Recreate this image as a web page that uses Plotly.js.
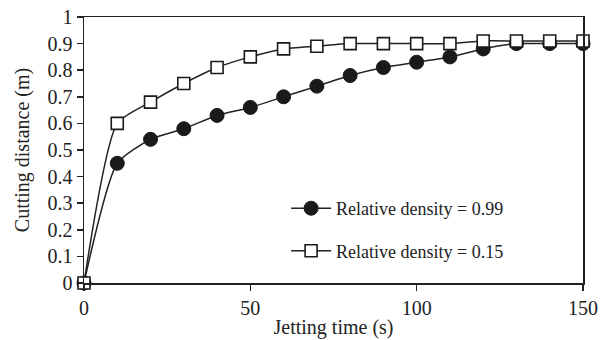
<!DOCTYPE html>
<html><head><meta charset="utf-8">
<script src="https://cdn.plot.ly/plotly-3.0.1.min.js"></script>
<style>body{margin:0;background:#fff}#chart{width:600px;height:340px}</style>
</head><body><div id="chart"></div>
<script>
const time = [0,10,20,30,40,50,60,70,80,90,100,110,120,130,140,150];
const dense99 = [0,0.45,0.54,0.58,0.63,0.66,0.70,0.74,0.78,0.81,0.83,0.85,0.88,0.90,0.90,0.90];
const dense15 = [0,0.60,0.68,0.75,0.81,0.85,0.88,0.89,0.90,0.90,0.90,0.90,0.91,0.91,0.91,0.91];
const names = ['Relative density = 0.99','Relative density = 0.15'];
const xTicks = [0,50,100,150];
const yTicks = [0,0.1,0.2,0.3,0.4,0.5,0.6,0.7,0.8,0.9,1];

const font = 'Liberation Serif, serif';
const traces = [
  {x: time, y: dense99, name: names[0], mode:'lines+markers', line:{shape:'spline', smoothing:0.6, color:'#222', width:1.5},
   marker:{symbol:'circle', size:14, color:'#1a1a1a', line:{color:'#1a1a1a', width:1}}, cliponaxis:false, legend:'legend'},
  {x: time, y: dense15, name: names[1], mode:'lines+markers', line:{shape:'spline', smoothing:0.6, color:'#222', width:1.5},
   marker:{symbol:'square', size:12, color:'#fff', line:{color:'#1a1a1a', width:1.6}}, cliponaxis:false, legend:'legend2'}
];
const layout = {
  width:600, height:340, margin:{l:84, r:17, t:17, b:57},
  paper_bgcolor:'#fff', plot_bgcolor:'#fff',
  font:{family:font, size:18, color:'#222'},
  xaxis:{range:[0,150], tickvals:xTicks, ticks:'outside', ticklen:6, tickwidth:1.5, tickcolor:'#222',
    showline:true, linecolor:'#222', linewidth:1.5, mirror:true, showgrid:false, zeroline:false,
    tickfont:{size:20}, title:{text:'Jetting time (s)', font:{size:20}, standoff:2}},
  yaxis:{range:[0,1], tickvals:yTicks, ticktext:yTicks.map(v=>String(v)), ticks:'outside', ticklen:6, tickwidth:1.5, tickcolor:'#222',
    showline:true, linecolor:'#222', linewidth:1.5, mirror:true, showgrid:false, zeroline:false,
    tickfont:{size:20}, title:{text:'Cutting distance (m)', font:{size:20}, standoff:12}},
  legend:{x:0.405, y:0.28, xanchor:'left', yanchor:'middle', bgcolor:'rgba(0,0,0,0)', font:{size:18}, itemwidth:40},
  legend2:{x:0.405, y:0.12, xanchor:'left', yanchor:'middle', bgcolor:'rgba(0,0,0,0)', font:{size:18}, itemwidth:40},
  showlegend:true
};
Plotly.newPlot('chart', traces, layout, {displayModeBar:false, staticPlot:true});
</script></body></html>
